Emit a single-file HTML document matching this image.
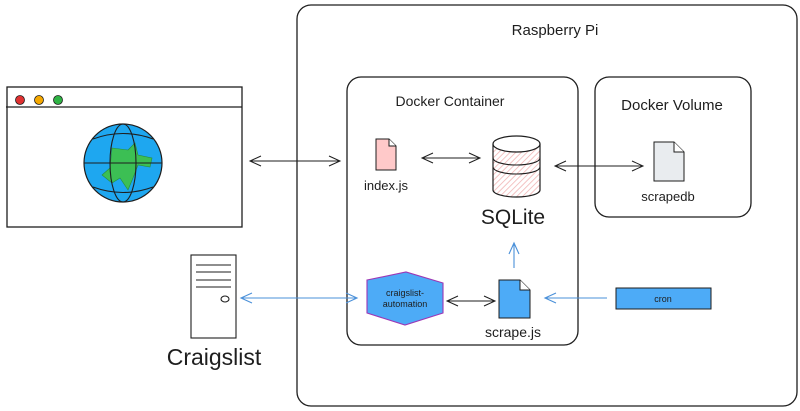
<!DOCTYPE html>
<html><head><meta charset="utf-8"><style>
html,body{margin:0;padding:0;background:#fff}
svg{display:block}
text{font-family:"Comic Sans MS","Liberation Sans",sans-serif;fill:#1e1e1e}
</style></head><body>
<svg width="800" height="411" viewBox="0 0 800 411" xmlns="http://www.w3.org/2000/svg">
<defs>
<pattern id="h" width="4" height="4" patternUnits="userSpaceOnUse" patternTransform="rotate(45)"><rect width="4" height="4" fill="#fff"/><line x1="0" y1="0" x2="0" y2="4" stroke="#f0b0b0" stroke-width="1.5"/></pattern>
</defs>
<g fill="none" stroke="#1e1e1e" stroke-width="1.3">
<rect x="297" y="5" width="500" height="401" rx="14"/>
<rect x="347" y="77" width="231" height="268" rx="14"/>
<rect x="595" y="77" width="156" height="140" rx="14"/>
<!-- browser -->
<rect x="7" y="87" width="235" height="140"/>
<line x1="6" y1="107" x2="242" y2="107"/>
</g>
<circle cx="20" cy="100" r="4.5" fill="#e03131" stroke="#1e1e1e" stroke-width=".8"/>
<circle cx="39" cy="100" r="4.5" fill="#f5a800" stroke="#1e1e1e" stroke-width=".8"/>
<circle cx="58" cy="100" r="4.5" fill="#2fb344" stroke="#1e1e1e" stroke-width=".8"/>
<!-- globe -->
<circle cx="123" cy="163" r="39" fill="#1ea7f0" stroke="#1e1e1e" stroke-width="1.2"/>
<path d="M112 148 L128 150 L135 143 L138 155 L152 158 L150 167 L138 165 L133 178 L128 190 L120 178 L112 183 L102 175 L110 168 Z" fill="#3cbf54" stroke="#2a8a3a" stroke-width=".6"/>
<g fill="none" stroke="#1e1e1e" stroke-width="1.1">
<ellipse cx="123" cy="163" rx="13" ry="39"/>
<line x1="84" y1="163" x2="162" y2="163"/>
<path d="M93 139 Q123 128 153 139"/>
<path d="M93 187 Q123 198 153 187"/>
</g>
<!-- server -->
<g fill="none" stroke="#1e1e1e" stroke-width="1.1">
<rect x="191" y="255" width="45" height="83"/>
<line x1="196" y1="265" x2="231" y2="265"/><line x1="196" y1="272" x2="231" y2="272"/>
<line x1="196" y1="280" x2="231" y2="280"/><line x1="196" y1="287" x2="231" y2="287"/>
<ellipse cx="225" cy="299" rx="4" ry="3"/>
</g>
<!-- files -->
<path d="M376 139 H389 L396 146 V170 H376 Z" fill="#ffc9c9" stroke="#1e1e1e" stroke-width="1"/>
<path d="M389 139 V146 H396" fill="#fff" stroke="#1e1e1e" stroke-width="1"/>
<path d="M654 142 H674 L684 152 V181 H654 Z" fill="#e9ecef" stroke="#1e1e1e" stroke-width="1"/>
<path d="M674 142 V152 H684" fill="#fff" stroke="#1e1e1e" stroke-width="1"/>
<path d="M499 280 H520 L530 290 V318 H499 Z" fill="#4dabf7" stroke="#1e1e1e" stroke-width="1"/>
<path d="M520 280 V290 H530" fill="#fff" stroke="#1e1e1e" stroke-width="1"/>
<!-- cylinder -->
<path d="M493 144 V190 A23.5 7 0 0 0 540 190 V144" fill="url(#h)" stroke="#1e1e1e" stroke-width="1.2"/>
<ellipse cx="516.5" cy="144" rx="23.5" ry="8" fill="#fff" stroke="#1e1e1e" stroke-width="1.2"/>
<path d="M493 158 A23.5 7 0 0 0 540 158 M493 167 A23.5 7 0 0 0 540 167" fill="none" stroke="#1e1e1e" stroke-width="1.1"/>
<!-- hexagon -->
<polygon points="367,280 406,272 443,283 443,313 405,325 367,313" fill="#4dabf7" stroke="#9c36b5" stroke-width="1.1"/>
<!-- cron -->
<rect x="616" y="288" width="95" height="21" fill="#4dabf7" stroke="#1e1e1e" stroke-width="1"/>
<!-- arrows -->
<g fill="none" stroke="#1e1e1e" stroke-width="1">
<path d="M250 161 H340 M261 156 L250 161 L261 166 M329 156 L340 161 L329 166"/>
<path d="M422 158 H480 M433 153 L422 158 L433 163 M469 153 L480 158 L469 163"/>
<path d="M555 166 H643 M566 161 L555 166 L566 171 M632 161 L643 166 L632 171"/>
<path d="M447 301 H495 M458 296 L447 301 L458 306 M484 296 L495 301 L484 306"/>
</g>
<g fill="none" stroke="#4a90d9" stroke-width="1.1">
<path d="M241 298 H357 M252 293 L241 298 L252 303 M346 293 L357 298 L346 303"/>
<path d="M514 268 V243 M509 254 L514 243 L519 254"/>
<path d="M545 298 H607 M556 293 L545 298 L556 303"/>
</g>
<!-- labels -->
<text x="555" y="35" font-size="15" text-anchor="middle">Raspberry Pi</text>
<text x="450" y="106" font-size="14" text-anchor="middle">Docker Container</text>
<text x="672" y="110" font-size="15" text-anchor="middle">Docker Volume</text>
<text x="386" y="190" font-size="13" text-anchor="middle">index.js</text>
<text x="513" y="224" font-size="21" text-anchor="middle">SQLite</text>
<text x="668" y="201" font-size="13" text-anchor="middle">scrapedb</text>
<text x="513" y="337" font-size="14" text-anchor="middle">scrape.js</text>
<text x="405" y="296" font-size="9" text-anchor="middle">craigslist-</text>
<text x="405" y="307" font-size="9" text-anchor="middle">automation</text>
<text x="663" y="302" font-size="9" text-anchor="middle">cron</text>
<text x="214" y="365" font-size="23" text-anchor="middle">Craigslist</text>
</svg>
</body></html>
